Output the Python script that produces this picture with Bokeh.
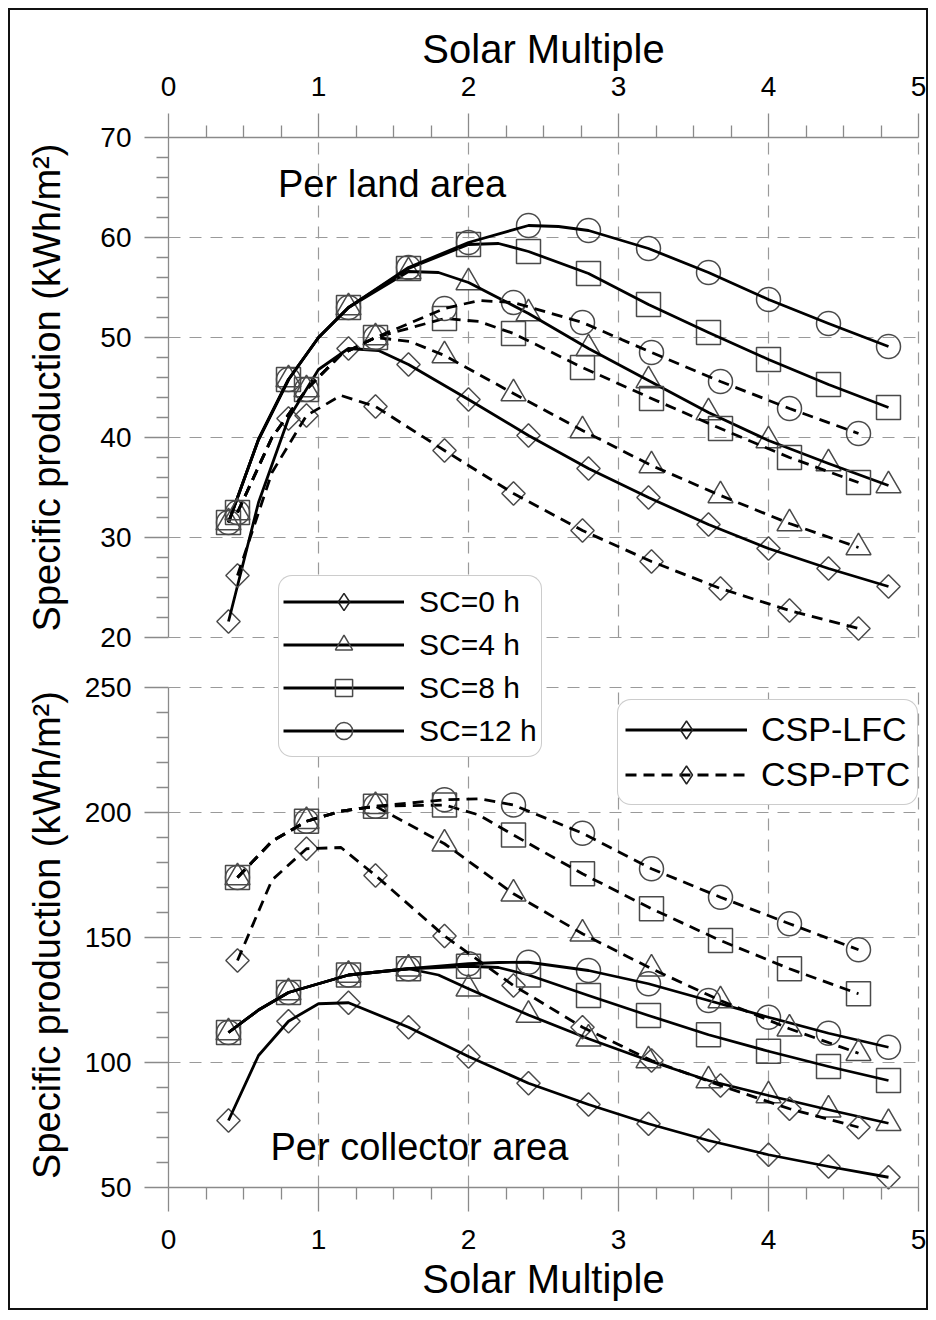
import math
from bokeh.plotting import figure
from bokeh.models import (Range1d, LinearAxis, FixedTicker, Grid, Legend,
                          LegendItem, Label)
from bokeh.embed import file_html
from bokeh.resources import INLINE

FONT = "Liberation Sans"

# ---------------- data ----------------
sm_lfc = [0.4, 0.8, 1.2, 1.6, 2.0, 2.4, 2.8, 3.2, 3.6, 4.0, 4.4, 4.8]
sm_ptc = [0.46, 0.92, 1.38, 1.84, 2.3, 2.76, 3.22, 3.68, 4.14, 4.6]

sc_labels = ["SC=0 h", "SC=4 h", "SC=8 h", "SC=12 h"]
tech_labels = ["CSP-LFC", "CSP-PTC"]

# Specific production per land area (kWh/m2)
land_lfc_sc0 = [21.6, 41.9, 48.9, 47.3, 43.8, 40.2, 36.9, 34.0, 31.3, 28.9, 26.9, 25.1]
land_lfc_sc4 = [31.5, 45.8, 53.0, 56.6, 55.5, 52.4, 48.9, 45.7, 42.5, 39.7, 37.4, 35.2]
land_lfc_sc8 = [31.5, 45.8, 53.0, 56.9, 59.3, 58.6, 56.4, 53.3, 50.5, 47.8, 45.3, 43.0]
land_lfc_sc12 = [31.5, 45.8, 53.0, 57.0, 59.5, 61.2, 60.7, 58.9, 56.5, 53.8, 51.4, 49.1]
land_ptc_sc0 = [26.2, 42.2, 43.1, 38.7, 34.4, 30.7, 27.6, 24.9, 22.7, 20.9]
land_ptc_sc4 = [32.5, 44.8, 50.0, 48.2, 44.4, 40.7, 37.2, 34.2, 31.4, 29.0]
land_ptc_sc8 = [32.5, 44.8, 50.0, 51.9, 50.4, 47.0, 43.9, 40.9, 38.0, 35.5]
land_ptc_sc12 = [32.5, 44.8, 50.0, 52.9, 53.5, 51.5, 48.5, 45.6, 42.9, 40.4]

# Specific production per collector area (kWh/m2)
coll_lfc_sc0 = [76.8, 116.5, 123.9, 114.1, 102.4, 91.7, 83.2, 75.5, 68.8, 63.1, 58.4, 54.1]
coll_lfc_sc4 = [112.0, 128.0, 135.0, 137.5, 129.5, 119.0, 109.5, 100.8, 92.8, 86.8, 81.1, 75.7]
coll_lfc_sc8 = [112.0, 128.0, 135.0, 137.5, 138.5, 135.0, 126.8, 118.8, 111.1, 104.5, 98.4, 92.8]
coll_lfc_sc12 = [112.0, 128.0, 135.0, 137.5, 139.5, 140.1, 136.8, 131.5, 124.8, 118.1, 111.7, 106.1]
coll_ptc_sc0 = [140.8, 185.5, 174.8, 150.6, 130.8, 114.1, 100.8, 90.8, 81.5, 74.1]
coll_ptc_sc4 = [174.0, 196.5, 202.5, 187.5, 167.5, 151.5, 137.5, 124.8, 113.5, 103.7]
coll_ptc_sc8 = [174.0, 196.5, 202.5, 203.0, 191.0, 175.5, 161.5, 148.8, 137.5, 127.5]
coll_ptc_sc12 = [174.0, 196.5, 202.5, 205.1, 203.0, 191.7, 177.5, 166.1, 155.5, 145.1]

# extra points of the drawn curves between the markers
land_lfc_sc0_mid = [(0.6, 33.5), (1.0, 46.8), (1.4, 48.7)]
land_lfc_sc4_mid = [(0.6, 39.8), (1.0, 50.0), (1.8, 56.5)]
land_lfc_sc8_mid = [(0.6, 39.8), (1.0, 50.0), (2.2, 59.4)]
land_lfc_sc12_mid = [(0.6, 39.8), (1.0, 50.0), (2.6, 61.1)]
land_ptc_sc0_mid = [(0.69, 36.5), (1.15, 44.2)]
land_ptc_sc4_mid = [(0.69, 40.0), (1.15, 48.3), (1.61, 49.6)]
land_ptc_sc8_mid = [(0.69, 40.0), (1.15, 48.3), (2.07, 51.6)]
land_ptc_sc12_mid = [(0.69, 40.0), (1.15, 48.3), (2.07, 53.7)]
coll_lfc_sc0_mid = [(0.6, 102.8), (1.0, 123.5)]
coll_lfc_sc4_mid = [(0.6, 121.0), (1.8, 135.0)]
coll_lfc_sc8_mid = [(0.6, 121.0), (2.2, 138.0)]
coll_lfc_sc12_mid = [(0.6, 121.0), (2.2, 140.0)]
coll_ptc_sc0_mid = [(0.69, 173.0), (1.15, 186.0)]
coll_ptc_sc4_mid = [(0.69, 188.5), (1.15, 200.5)]
coll_ptc_sc8_mid = [(0.69, 188.5), (1.15, 200.5), (2.07, 199.0)]
coll_ptc_sc12_mid = [(0.69, 188.5), (1.15, 200.5), (2.07, 205.5)]

sm_ticks = [0, 1, 2, 3, 4, 5]
land_ticks = [20, 30, 40, 50, 60, 70]
coll_ticks = [50, 100, 150, 200, 250]

# ---------------- scales ----------------
# The frame covers the whole canvas; the panels are placed with bounded axes.
X_RANGE = (-1.12, 5.12)          # 150 px per unit
LAND_RANGE = (-48.1, 83.7)       # 10 px per unit
COLL_RANGE = (-2.4, 524.8)       # 2.5 px per unit

AX = "#8a8a8a"
GRID = "#9a9a9a"
MK = "#4a4a4a"

p = figure(width=936, height=1318, output_backend="svg", toolbar_location=None,
           x_range=Range1d(*X_RANGE), y_range=Range1d(*LAND_RANGE),
           x_axis_location=None, y_axis_location=None,
           min_border_left=0, min_border_right=0,
           min_border_top=0, min_border_bottom=0)
p.extra_y_ranges = {"bot": Range1d(*COLL_RANGE)}
p.outline_line_color = None
p.border_fill_color = None
p.background_fill_color = None
p.xgrid.visible = False
p.ygrid.visible = False
p.styles = {"outline": "2px solid #111", "outline-offset": "-10px"}


def style_axis(ax, standoff):
    ax.major_label_text_font = FONT
    ax.major_label_text_font_size = "28px"
    ax.major_label_text_color = "black"
    ax.major_label_standoff = standoff
    ax.axis_line_color = AX
    ax.axis_line_width = 1.3
    ax.major_tick_line_color = AX
    ax.minor_tick_line_color = AX
    ax.major_tick_line_width = 1.3
    ax.minor_tick_line_width = 1.3
    ax.major_tick_out = 24
    ax.major_tick_in = 0
    ax.minor_tick_out = 12
    ax.minor_tick_in = 0


# ---------- x axes (top of upper panel, bottom of lower panel) ----------
sm_minor = [i * 0.25 for i in range(21) if i % 4]
ax_top = LinearAxis(fixed_location=land_ticks[-1], bounds=(sm_ticks[0], sm_ticks[-1]),
                    ticker=FixedTicker(ticks=sm_ticks, minor_ticks=sm_minor))
style_axis(ax_top, 18)
p.add_layout(ax_top, "above")
ax_bot = LinearAxis(fixed_location=coll_ticks[0], y_range_name="bot",
                    bounds=(sm_ticks[0], sm_ticks[-1]),
                    ticker=FixedTicker(ticks=sm_ticks, minor_ticks=sm_minor))
style_axis(ax_bot, 18)
p.add_layout(ax_bot, "below")

# ---------- y axes (one per panel, both at SM = 0) ----------
land_minor = [v for v in range(22, 70, 2) if v % 10]
coll_minor = [v for v in range(60, 250, 10) if v % 50]
ay_top = LinearAxis(fixed_location=0, bounds=(land_ticks[0], land_ticks[-1]),
                    ticker=FixedTicker(ticks=land_ticks, minor_ticks=land_minor))
style_axis(ay_top, 13)
p.add_layout(ay_top, "left")
ay_bot = LinearAxis(fixed_location=0, y_range_name="bot",
                    bounds=(coll_ticks[0], coll_ticks[-1]),
                    ticker=FixedTicker(ticks=coll_ticks, minor_ticks=coll_minor))
style_axis(ay_bot, 13)
p.add_layout(ay_bot, "left")

# ---------- grids ----------
HAS_CB = "cross_bounds" in Grid.properties()


def add_grid(dim, ticks, rng, cb):
    g = Grid(dimension=dim, ticker=FixedTicker(ticks=ticks), y_range_name=rng,
             grid_line_color=GRID, grid_line_dash="12 9", grid_line_width=1.2)
    if HAS_CB:
        g.cross_bounds = cb
    p.add_layout(g)


add_grid(0, sm_ticks[1:], "default", (land_ticks[0], land_ticks[-1]))
add_grid(0, sm_ticks[1:], "bot", (coll_ticks[0], coll_ticks[-1]))
add_grid(1, land_ticks[:-1], "default", (sm_ticks[0], sm_ticks[-1]))
add_grid(1, coll_ticks[1:], "bot", (sm_ticks[0], sm_ticks[-1]))

# ---------- series ----------
markers = ["square", "triangle", "square", "circle"]
angles = [math.pi / 4, 0, 0, 0]
sizes = [16.5, 25, 24, 24]

panels = [
    ("default", [land_lfc_sc0, land_lfc_sc4, land_lfc_sc8, land_lfc_sc12],
     [land_ptc_sc0, land_ptc_sc4, land_ptc_sc8, land_ptc_sc12],
     [land_lfc_sc0_mid, land_lfc_sc4_mid, land_lfc_sc8_mid, land_lfc_sc12_mid],
     [land_ptc_sc0_mid, land_ptc_sc4_mid, land_ptc_sc8_mid, land_ptc_sc12_mid]),
    ("bot", [coll_lfc_sc0, coll_lfc_sc4, coll_lfc_sc8, coll_lfc_sc12],
     [coll_ptc_sc0, coll_ptc_sc4, coll_ptc_sc8, coll_ptc_sc12],
     [coll_lfc_sc0_mid, coll_lfc_sc4_mid, coll_lfc_sc8_mid, coll_lfc_sc12_mid],
     [coll_ptc_sc0_mid, coll_ptc_sc4_mid, coll_ptc_sc8_mid, coll_ptc_sc12_mid]),
]


def merged(xs, ys, mid):
    pts = sorted(list(zip(xs, ys)) + list(mid))
    return [q[0] for q in pts], [q[1] for q in pts]


line_r = {}
mark_r = {}
for rng, lfc, ptc, lfc_mid, ptc_mid in panels:
    for tech, xs, series, mids, dash in (("lfc", sm_lfc, lfc, lfc_mid, "solid"),
                                         ("ptc", sm_ptc, ptc, ptc_mid, "11 7")):
        for k in range(4):
            mr = p.scatter(xs, series[k], marker=markers[k], angle=angles[k],
                           size=sizes[k], line_color=MK, line_width=1.5,
                           fill_alpha=0, y_range_name=rng)
            lx, ly = merged(xs, series[k], mids[k])
            lr = p.line(lx, ly, line_color="black", line_width=2.8,
                        line_dash=dash, line_join="round", y_range_name=rng)
            line_r[(rng, tech, k)] = lr
            mark_r[(rng, tech, k)] = mr

# legend-only diamond (legend markers are drawn unrotated)
leg_diamond = p.scatter(sm_lfc, land_lfc_sc0, marker="diamond", size=20,
                        line_color="#222222", line_width=1.5, fill_alpha=0,
                        visible=False)

sc_items = []
for k in range(4):
    rs = [line_r[("default", "lfc", k)]]
    rs.append(leg_diamond if k == 0 else mark_r[("default", "lfc", k)])
    sc_items.append(LegendItem(label=sc_labels[k], renderers=rs))

tech_items = [
    LegendItem(label=tech_labels[0], renderers=[line_r[("default", "lfc", 0)], leg_diamond]),
    LegendItem(label=tech_labels[1], renderers=[line_r[("default", "ptc", 0)], leg_diamond]),
]

leg1 = Legend(items=sc_items, location=(278, 561), glyph_width=121,
              glyph_height=43, spacing=0, padding=4, label_standoff=15,
              margin=0, label_text_font=FONT, label_text_font_size="30px",
              label_text_color="black",
              border_line_color="#9a9a9a", border_line_width=1.2,
              background_fill_color="white", background_fill_alpha=1.0)
leg2 = Legend(items=tech_items, location=(617, 513), glyph_width=122,
              glyph_height=45, spacing=0, padding=7, label_standoff=14,
              margin=0, label_text_font=FONT, label_text_font_size="34px",
              label_text_color="black",
              border_line_color="#9a9a9a", border_line_width=1.2,
              background_fill_color="white", background_fill_alpha=1.0)
if "border_radius" in Legend.properties():
    leg1.border_radius = 14
    leg2.border_radius = 14
p.add_layout(leg1)
p.add_layout(leg2)

# ---------- texts ----------
ytitle = "Specific production (kWh/m\u00b2)"
for yy, rng in ((45, "default"), (151, "bot")):
    p.add_layout(Label(x=-0.807, y=yy, y_range_name=rng, text=ytitle,
                       angle=math.pi / 2, text_align="center",
                       text_baseline="middle", text_font=FONT,
                       text_font_size="38px", text_color="black"))

for yy, rng in ((78.9, "default"), (13.4, "bot")):
    p.add_layout(Label(x=2.5, y=yy, y_range_name=rng, text="Solar Multiple",
                       text_align="center", text_baseline="middle",
                       text_font=FONT, text_font_size="40px",
                       text_color="black"))

p.add_layout(Label(x=0.73, y=65.35, text="Per land area", text_font=FONT,
                   text_font_size="38px", text_baseline="middle",
                   text_align="left", text_color="black"))
p.add_layout(Label(x=0.68, y=66.2, y_range_name="bot", text="Per collector area",
                   text_font=FONT, text_font_size="38px",
                   text_baseline="middle", text_align="left",
                   text_color="black"))

open("out.html", "w").write(file_html(p, INLINE))
